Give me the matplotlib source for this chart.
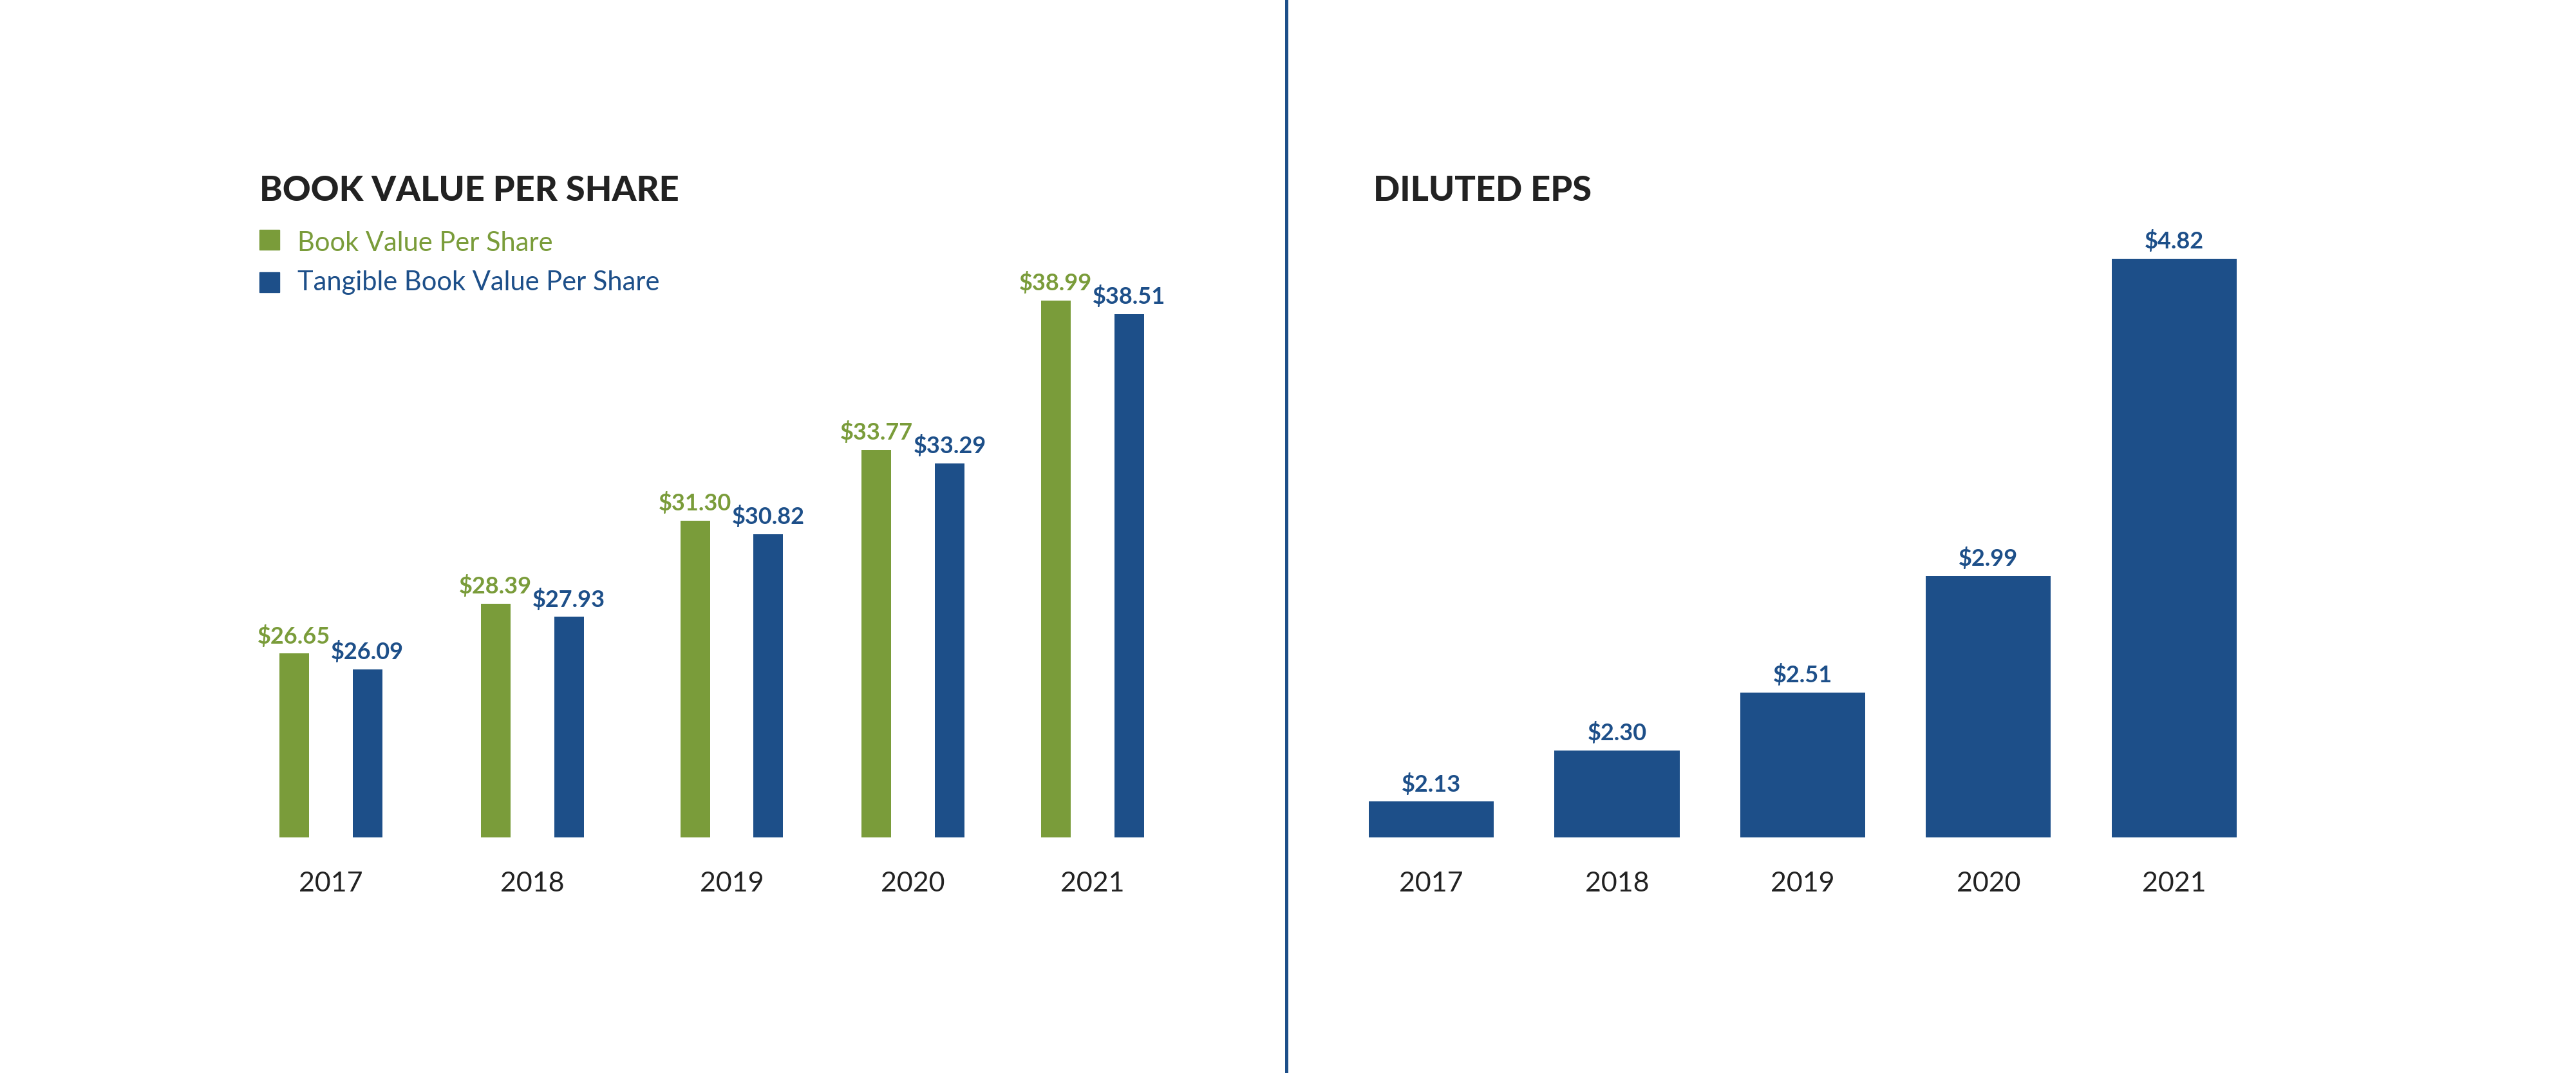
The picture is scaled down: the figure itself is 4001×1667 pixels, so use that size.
import matplotlib
matplotlib.use('Agg')
import matplotlib.pyplot as plt
from matplotlib.patches import Rectangle
from matplotlib.lines import Line2D

# data
years = ['2017', '2018', '2019', '2020', '2021']
book_value = [26.65, 28.39, 31.30, 33.77, 38.99]
tangible_book_value = [26.09, 27.93, 30.82, 33.29, 38.51]
diluted_eps = [2.13, 2.30, 2.51, 2.99, 4.82]

green = '#7a9c3a'
blue = '#1d4f89'
dark = '#222222'

W, H = 4001, 1667
plt.rcParams['font.family'] = ['Lato', 'DejaVu Sans']

def fx(px):
    return px / W

def fy(py):
    return 1 - py / H

fig = plt.figure(figsize=(W / 100, H / 100), dpi=100)
fig.patch.set_facecolor('white')

# group centres of the left chart (not evenly spaced in the original)
left_pos = [0, 1.0, 1.99, 2.89, 3.78]
bar_w = 0.147
offset = 0.182

ax1 = fig.add_axes([fx(400), fy(1301), 1500 / W, 968 / H])
ax1.bar([p - offset for p in left_pos], book_value, width=bar_w, color=green)
ax1.bar([p + offset for p in left_pos], tangible_book_value, width=bar_w, color=blue)
ax1.set_xlim(-0.364, 4.43)
ax1.set_ylim(20.22, 42)

for p, v in zip(left_pos, book_value):
    ax1.annotate('$%.2f' % v, (p - offset, v), xytext=(0, 7), textcoords='offset points',
                 ha='center', va='bottom', fontsize=26, fontweight='bold', color=green)
for p, v in zip(left_pos, tangible_book_value):
    ax1.annotate('$%.2f' % v, (p + offset, v), xytext=(0, 7), textcoords='offset points',
                 ha='center', va='bottom', fontsize=26, fontweight='bold', color=blue)
for p, y in zip(left_pos, years):
    ax1.annotate(y, (p, 0), xycoords=('data', 'axes fraction'), xytext=(0, -52),
                 textcoords='offset points', ha='center', va='center', fontsize=31, color=dark)

# right chart
right_pos = range(len(years))
eps_floor = 2.018
ax2 = fig.add_axes([fx(2050), fy(1301), 1550 / W, 1001 / H])
ax2.set_yscale('log')
ax2.bar(right_pos, [v - eps_floor for v in diluted_eps], bottom=eps_floor, width=0.673, color=blue)
ax2.set_xlim(-0.6, 4.774)
ax2.set_ylim(eps_floor, 5.32)
for p, v in zip(right_pos, diluted_eps):
    ax2.annotate('$%.2f' % v, (p, v), xytext=(0, 7), textcoords='offset points',
                 ha='center', va='bottom', fontsize=26, fontweight='bold', color=blue)
for p, y in zip(right_pos, years):
    ax2.annotate(y, (p, 0), xycoords=('data', 'axes fraction'), xytext=(0, -52),
                 textcoords='offset points', ha='center', va='center', fontsize=31, color=dark)

for ax in (ax1, ax2):
    for s in ax.spines.values():
        s.set_visible(False)
    ax.set_xticks([])
    ax.set_yticks([])
    ax.minorticks_off()
    ax.patch.set_alpha(0)

# titles
fig.text(fx(403), fy(296), 'BOOK VALUE PER SHARE', fontsize=39, fontweight='black',
         color=dark, ha='left', va='center')
fig.text(fx(2133), fy(296), 'DILUTED EPS', fontsize=39, fontweight='black',
         color=dark, ha='left', va='center')

# legend
fig.add_artist(Rectangle((fx(403), fy(388)), 31 / W, 31 / H, transform=fig.transFigure, color=green))
fig.add_artist(Rectangle((fx(403), fy(454)), 31 / W, 31 / H, transform=fig.transFigure, color=blue))
fig.text(fx(462), fy(378), 'Book Value Per Share', fontsize=30, color=green, ha='left', va='center')
fig.text(fx(462), fy(439), 'Tangible Book Value Per Share', fontsize=30, color=blue, ha='left', va='center')

# divider
fig.add_artist(Line2D([fx(1998), fx(1998)], [0, 1], transform=fig.transFigure, color=blue, lw=3.6))

fig.savefig('out.png', dpi=100)
